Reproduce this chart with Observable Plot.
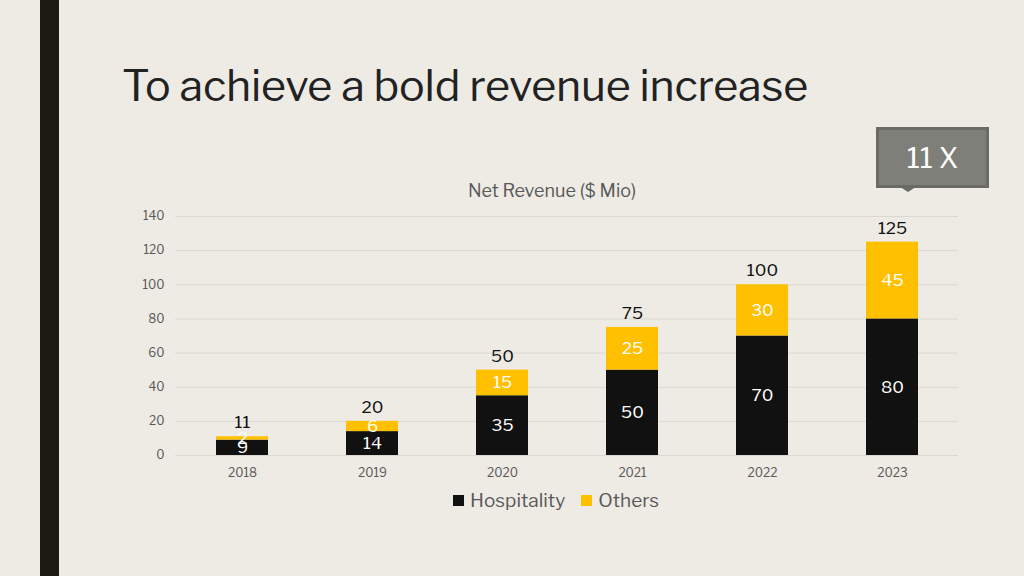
<!DOCTYPE html>
<html>
<head>
<meta charset="utf-8">
<script src="https://cdn.jsdelivr.net/npm/d3@7"></script>
<script src="https://cdn.jsdelivr.net/npm/@observablehq/plot@0.6"></script>
<style>
  html, body { margin: 0; padding: 0; }
  body { width: 1024px; height: 576px; background: #EDEBE4; position: relative; overflow: hidden; font-family: "Libre Franklin", "Liberation Sans", Arial, sans-serif; }
  #bar { position: absolute; left: 40px; top: 0; width: 19px; height: 576px; background: #1B1B12; }
  #title { position: absolute; left: 122px; top: 59px; font-size: 43px; color: #222; font-weight: 400; white-space: nowrap; letter-spacing: -0.2px; }
  #callout { position: absolute; left: 876px; top: 127px; width: 107px; height: 55px; background: #7F7F79; border: 3px solid #6B6B65; color: #fff; font-size: 28px; text-align: center; line-height: 57px; }
  #ptr { position: absolute; left: 897px; top: 185px; width: 0; height: 0; border-left: 11px solid transparent; border-right: 11px solid transparent; border-top: 7px solid #6B6B65; }
  #chartTitle { position: absolute; left: 0; width: 1104px; top: 180px; text-align: center; font-size: 18px; color: #595959; }
  #chart { position: absolute; left: 0; top: 0; }
  #legend { position: absolute; top: 489px; left: 453px; font-size: 19px; color: #595959; display: flex; align-items: center; white-space: nowrap; }
  .sw { display: inline-block; width: 11px; height: 11px; margin-right: 6px; }
</style>
</head>
<body>
<div id="bar"></div>
<div id="title">To achieve a bold revenue increase</div>
<div id="callout">11 X</div>
<div id="ptr"></div>
<div id="chart"></div>
<div id="chartTitle">Net Revenue ($ Mio)</div>
<div id="legend"></div>
<script>
const years = ["2018", "2019", "2020", "2021", "2022", "2023"];
const hospitality = [9, 14, 35, 50, 70, 80];
const others = [2, 6, 15, 25, 30, 45];
const totals = [11, 20, 50, 75, 100, 125];
const seriesNames = ["Hospitality", "Others"];
const seriesColors = ["#111111", "#FFC000"];
const yTicks = [0, 20, 40, 60, 80, 100, 120, 140];

const rows = [];
years.forEach((y, i) => rows.push({year: y, series: "Hospitality", value: hospitality[i]}));
years.forEach((y, i) => rows.push({year: y, series: "Others", value: others[i]}));
const totalRows = years.map((y, i) => ({year: y, total: totals[i]}));

const plot = Plot.plot({
  width: 1024,
  height: 576,
  marginLeft: 175,
  marginRight: 66,
  marginTop: 216,
  marginBottom: 121,
  style: {background: "transparent", fontFamily: "'Libre Franklin', 'Liberation Sans', Arial, sans-serif"},
  x: {domain: years, paddingInner: 0.6, paddingOuter: 0.3, label: null, tickSize: 0, tickPadding: 13},
  y: {domain: [0, 140], label: null, ticks: yTicks, tickSize: 0, tickPadding: 11},
  color: {domain: seriesNames, range: seriesColors},
  marks: [
    Plot.ruleY(yTicks, {stroke: "#DAD8D1", strokeWidth: 1}),
    Plot.axisY({ticks: yTicks, tickSize: 0, tickPadding: 11, fontSize: 12, color: "#595959", label: null}),
    Plot.axisX({tickSize: 0, tickPadding: 13, fontSize: 12, color: "#595959", label: null}),
    Plot.barY(rows, {x: "year", y: "value", fill: "series", order: seriesNames}),
    Plot.text(rows, Plot.stackY({x: "year", y: "value", z: "series", order: seriesNames, text: d => String(d.value), fill: "white", fontSize: 17})),
    Plot.text(totalRows, {x: "year", y: "total", text: d => String(d.total), dy: -14, fill: "#111", fontSize: 17})
  ]
});
document.getElementById("chart").appendChild(plot);

const legend = document.getElementById("legend");
seriesNames.forEach((n, i) => {
  const item = document.createElement("span");
  item.style.display = "inline-flex";
  item.style.alignItems = "center";
  item.style.marginRight = "16px";
  item.innerHTML = `<span class="sw" style="background:${seriesColors[i]}"></span>${n}`;
  legend.appendChild(item);
});
</script>
</body>
</html>
